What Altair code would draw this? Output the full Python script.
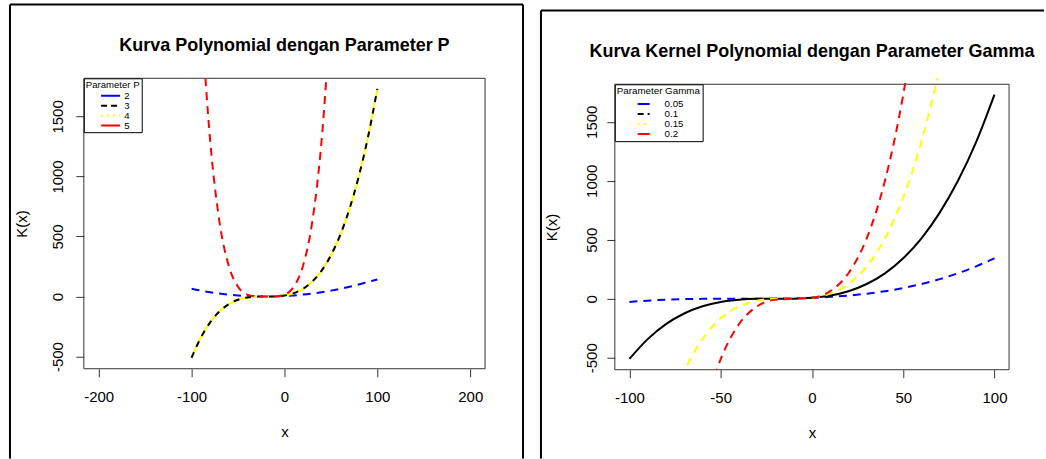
import altair as alt
import pandas as pd

FONT = "Liberation Sans"

# x positions at which the curves are sampled
X_FULL = list(range(-100, 101, 10))

# Left panel: polynomial kernel K(x) for several degrees P
P_NAMES = ["2", "3", "4", "5"]
P2 = [65, 49, 36, 25, 16, 9, 4, 1, 0, 1, 4, 9, 16, 25, 36, 49, 64, 81, 100, 121, 142]
P3 = [-510, -342, -215, -125, -64, -27, -8, -1, 0, 1, 8, 27, 64, 125, 215, 343, 512, 730, 1000, 1330, 1730]
P4 = [-510, -342, -215, -125, -64, -27, -8, -1, 0, 1, 8, 27, 64, 125, 215, 343, 512, 730, 1000, 1330, 1730]
X_P5 = list(range(-90, 51, 10))
P5 = [2400, 1300, 625, 256, 81, 16, 1, 0, 1, 16, 81, 256, 625, 1300, 2400]

# Right panel: polynomial kernel K(x) for several gamma values
G_NAMES = ["0.05", "0.1", "0.15", "0.2"]
G005 = [-27, -16, -8, -3, -1, 0, 0, 0, 1, 3, 8, 16, 27, 43, 64, 91, 125, 166, 216, 275, 343]
G01 = [-510, -342, -215, -125, -64, -27, -8, -1, 0, 1, 8, 27, 64, 125, 215, 343, 512, 730, 1000, 1330, 1730]
X_G015 = list(range(-80, 71, 10))
G015 = [-1000, -614, -343, -166, -64, -16, -1, 0, 8, 43, 125, 275, 512, 857, 1331, 1953]
X_G02 = list(range(-60, 61, 10))
G02 = [-1000, -512, -216, -64, -8, 0, 8, 64, 216, 512, 1000, 1728, 2744]

COLORS = ["#0000FF", "#000000", "#FFFF00", "#FF0000"]
Y_DOMAIN = [-601.6, 1817.6]
Y_TICKS = [-500, 0, 500, 1000, 1500]
X_TICKS_L = [-200, -100, 0, 100, 200]
X_TICKS_R = [-100, -50, 0, 50, 100]


def long_df(field, parts):
    rows = []
    for name, xs, ys in parts:
        for xv, yv in zip(xs, ys):
            rows.append({"x": xv, "k": yv, field: name})
    return pd.DataFrame(rows)


df_p = long_df("p", [("2", X_FULL, P2), ("3", X_FULL, P3), ("4", X_FULL, P4), ("5", X_P5, P5)])
df_g = long_df("g", [("0.05", X_FULL, G005), ("0.1", X_FULL, G01), ("0.15", X_G015, G015), ("0.2", X_G02, G02)])

one = pd.DataFrame({"o": [0]})


def edge(x1, y1, x2, y2):
    """One straight border line of a figure frame, in panel pixels."""
    return alt.Chart(one).mark_rule(color="#000000", strokeWidth=2).encode(
        x=alt.value(x1), y=alt.value(y1), x2=alt.value(x2), y2=alt.value(y2))


def panel(df, field, names, draw, legend_dash, legend_title, xdomain, xticks,
          width, height, top, title, ylab_pad, ytitle_x, sym_size, sym_offset,
          lab_offset, leg_font, leg_title_pad, frame_edges):
    xs = alt.Scale(domain=xdomain, nice=False, zero=False)
    ys = alt.Scale(domain=Y_DOMAIN, nice=False, zero=False, range=[height, top])
    x_enc = alt.X(
        "x:Q", scale=xs,
        axis=alt.Axis(values=xticks, title="x", grid=False, domain=False,
                      tickSize=8, tickColor="#333333", tickWidth=1,
                      labelFont=FONT, labelFontSize=15, labelColor="#000000",
                      labelPadding=13, labelBaseline="top", labelFlush=False,
                      labelOverlap=False, labelExpr="'' + datum.value",
                      titleFont=FONT, titleFontSize=15, titleFontWeight="normal",
                      titleColor="#000000", titleY=56, titleBaseline="top"))
    y_enc = alt.Y(
        "k:Q", scale=ys,
        axis=alt.Axis(values=Y_TICKS, title="K(x)", grid=False, domain=False,
                      tickSize=8, tickColor="#333333", tickWidth=1,
                      labelFont=FONT, labelFontSize=15, labelColor="#000000",
                      labelAngle=270, labelAlign="center", labelBaseline="bottom",
                      labelPadding=ylab_pad, labelFlush=False, labelOverlap=False,
                      labelExpr="'' + datum.value",
                      titleFont=FONT, titleFontSize=15, titleFontWeight="normal",
                      titleColor="#000000", titleAngle=270, titleAlign="center",
                      titleBaseline="bottom", titleX=ytitle_x,
                      titleY=(height + top) / 2))

    box = alt.Chart(one).mark_rect(fillOpacity=0, stroke="#333333", strokeWidth=1).encode(
        x=alt.value(0), x2=alt.value(width), y=alt.value(top), y2=alt.value(height))
    head = alt.Chart(one).mark_text(
        text=title, font=FONT, fontSize=18, fontWeight="bold", color="#000000",
        align="center", baseline="alphabetic").encode(
        x=alt.value(width / 2), y=alt.value(top - 27.7))

    layers = [edge(*e) for e in frame_edges] + [box]
    for name, color, dash in draw:
        kw = dict(color=color, strokeWidth=2, clip=True, interpolate="monotone")
        if dash:
            kw["strokeDash"] = dash
        layers.append(
            alt.Chart(df).transform_filter(alt.datum[field] == name)
            .mark_line(**kw).encode(x=x_enc, y=y_enc))

    leg = alt.Legend(
        title=legend_title, orient="none", legendX=0, legendY=top,
        direction="vertical", symbolType="M-4,0H4", symbolSize=sym_size,
        symbolStrokeWidth=2, symbolOffset=sym_offset, labelOffset=lab_offset,
        labelFont=FONT, labelFontSize=leg_font, labelColor="#000000",
        titleFont=FONT, titleFontSize=leg_font, titleFontWeight="normal",
        titleColor="#000000", titlePadding=leg_title_pad, rowPadding=-1.5, padding=2,
        strokeColor="#000000", fillColor="#FFFFFF", cornerRadius=0)
    key = alt.Chart(df).transform_filter("false").mark_line(strokeWidth=2).encode(
        x=x_enc, y=y_enc,
        color=alt.Color(f"{field}:N", scale=alt.Scale(domain=names, range=COLORS), legend=leg),
        strokeDash=alt.StrokeDash(f"{field}:N", scale=alt.Scale(domain=names, range=legend_dash), legend=leg))
    layers.append(key)
    layers.append(head)
    return alt.layer(*layers).properties(width=width, height=height)


left = panel(
    df_p, "p", P_NAMES,
    [("2", "#0000FF", [8, 6]), ("4", "#FFFF00", None), ("3", "#000000", [6, 6]), ("5", "#FF0000", [8, 6])],
    [[1, 0], [6, 4], [2, 4], [1, 0]], "Parameter P",
    [-216, 216], X_TICKS_L, 402, 291, 0,
    "Kurva Polynomial dengan Parameter P", 10, -54, 22.6, 20, 9, 9.6, 1,
    [(-74, -74, -74, 381), (-74, -74, 440, -74), (440, -74, 440, 381)])

right = panel(
    df_g, "g", G_NAMES,
    [("0.05", "#0000FF", [8, 6]), ("0.1", "#000000", None), ("0.15", "#FFFF00", [8, 6]), ("0.2", "#FF0000", [8, 6])],
    [[1, 0], [6, 4], [2, 4], [1, 0]], "Parameter Gamma",
    [-108, 108], X_TICKS_R, 395, 292, 6,
    "Kurva Kernel Polynomial dengan Parameter Gamma", 7.5, -55, 9, 22, 16, 9.8, 3,
    [(-74, -68, -74, 381), (-74, -68, 430, -68)])

chart = (
    alt.hconcat(left, right, spacing=130, bounds="flush")
    .resolve_scale(x="independent", y="independent", color="independent", strokeDash="independent")
    .resolve_legend(color="independent", strokeDash="independent")
    .properties(padding={"left": 8, "top": 2, "right": 0, "bottom": 0})
    .configure_view(stroke="transparent")
)

chart.save("out.html", embed_options={"renderer": "svg", "actions": False})
